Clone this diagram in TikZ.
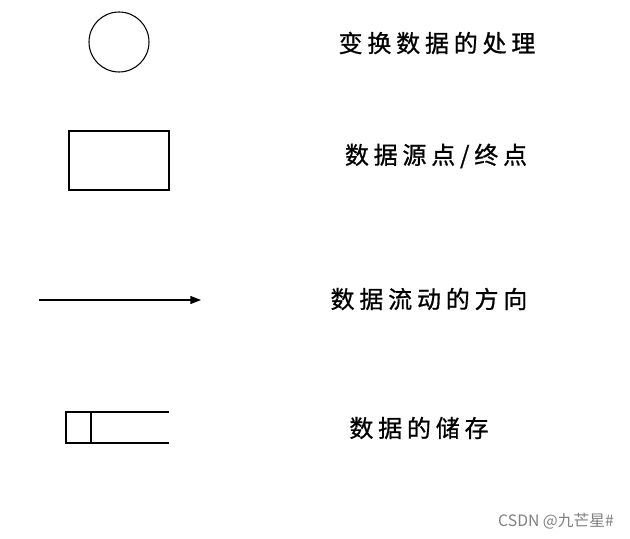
\documentclass[tikz,border=0pt]{standalone}
\usepackage{fontspec}
\newfontfamily\cjk[LetterSpace=20,FakeBold=0.8]{Noto Sans CJK SC}
\newfontfamily\cjkmark{Noto Sans CJK SC}
\usetikzlibrary{calc,positioning,arrows.meta}
\tikzset{
  lbl/.style={font=\cjk\fontsize{18}{22}\selectfont,inner sep=0pt},
  sym/.style={draw=black,line width=0.8pt}
}
\begin{document}
\begin{tikzpicture}[x=0.75pt,y=-0.75pt]
\useasboundingbox(0,0)rectangle(630,538);
\node[sym,circle,minimum size=45pt,inner sep=0pt](proc)at(119,42){};
\node[lbl](tproc)at(437,43){变换数据的处理};
\node[sym,rectangle,minimum width=75pt,minimum height=44.25pt,inner sep=0pt](src)at(119,160.5){};
\node[lbl](tsrc)at(436,156){数据源点/终点};
\coordinate(fa)at(39,300);
\coordinate(fb)at(201,300);
\draw[-{Triangle[length=8pt,width=6pt]},line width=0.8pt](fa)--(fb);
\node[lbl](tflow)at(429,299){数据流动的方向};
\coordinate(s1)at(169,412);
\coordinate(s2)at(66,412);
\coordinate(s3)at(66,443);
\coordinate(s4)at(169,443);
\draw[sym](s1)--(s2)--(s3)--(s4);
\draw[sym](s2-|91,0)--(s3-|91,0);
\node[lbl](tstore)at(419,428){数据的储存};
\node[font=\cjkmark\fontsize{11.8}{14}\selectfont,text=gray,inner sep=0pt](mark)at(556,521){CSDN @九芒星\#};
\end{tikzpicture}
\end{document}
